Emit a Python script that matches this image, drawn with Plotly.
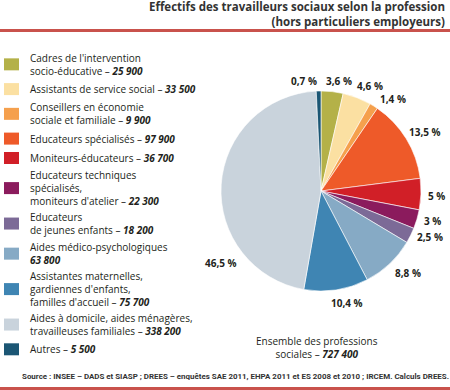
import plotly.graph_objects as go

# ---------------- data ----------------
categories = [
    "Cadres de l'intervention<br>socio-éducative",
    "Assistants de service social",
    "Conseillers en économie<br>sociale et familiale",
    "Educateurs spécialisés",
    "Moniteurs-éducateurs",
    "Educateurs techniques<br>spécialisés,<br>moniteurs d'atelier",
    "Educateurs<br>de jeunes enfants",
    "Aides médico-psychologiques",
    "Assistantes maternelles,<br>gardiennes d'enfants,<br>familles d'accueil",
    "Aides à domicile, aides ménagères,<br>travailleuses familiales",
    "Autres",
]
values = [25900, 33500, 9900, 97900, 36700, 22300, 18200, 63800, 75700, 338200, 5500]
value_labels = ["25 900", "33 500", "9 900", "97 900", "36 700", "22 300",
                "18 200", "63 800", "75 700", "338 200", "5 500"]
pct_labels = ["3,6 %", "4,6 %", "1,4 %", "13,5 %", "5 %", "3 %", "2,5 %",
              "8,8 %", "10,4 %", "46,5 %", "0,7 %"]
total_label = "727 400"
title_lines = ["Effectifs des travailleurs sociaux selon la profession",
               "(hors particuliers employeurs)"]
source_text = ("Source : INSEE – DADS et SIASP ; DREES – enquêtes SAE 2011, "
               "EHPA 2011 et ES 2008 et 2010 ; IRCEM. Calculs DREES.")

# ---------------- styles ----------------
colors = ["#b4b148", "#fbe0a2", "#f5a04d", "#ee5a29", "#d11f27", "#8b1b5d",
          "#7c6a97", "#86aac5", "#3f85b3", "#c9d3dc", "#1b5674"]
W, H = 450, 390
RED = "#c9524c"
TXT = "#231f20"
FONT = "Open Sans"

# pie geometry (pixels)
cx, cy, R = 321, 191, 100
# label positions (pixels) for percentage labels
label_xy = [(339, 81), (370, 86), (393, 99), (425, 132), (436, 196), (432, 221),
            (430, 237), (408, 273), (347, 303), (221, 263), (304, 81)]


def px(x):
    return x / W


def py(y):
    return 1 - y / H


fig = go.Figure()
fig.add_trace(go.Pie(
    values=values,
    labels=[c.replace("<br>", " ") for c in categories],
    sort=False,
    direction="clockwise",
    rotation=0,
    marker=dict(colors=colors, line=dict(color="white", width=0.6)),
    textinfo="none",
    hoverinfo="label+value",
    showlegend=False,
    domain=dict(x=[px(cx - R), px(cx + R)], y=[py(cy + R), py(cy - R)]),
))

annotations = []
shapes = []

# title
annotations.append(dict(
    x=px(447), y=py(14), xref="paper", yref="paper",
    text="<br>".join(title_lines), showarrow=False, xanchor="right",
    yanchor="middle", align="right",
    font=dict(family=FONT, size=11.5, color="#333333", weight="bold")))

# red rules
shapes.append(dict(type="line", xref="paper", yref="paper", x0=0, x1=1,
                   y0=py(30.5), y1=py(30.5), line=dict(color=RED, width=3)))
shapes.append(dict(type="line", xref="paper", yref="paper", x0=0, x1=1,
                   y0=py(388.5), y1=py(388.5), line=dict(color=RED, width=3)))

# legend
line_h = 10.7
gap = 19.4
y = 59
for cat, val, col in zip(categories, value_labels, colors):
    sep = "<br>" if cat == "Aides médico-psychologiques" else " – "
    text = f"{cat}{sep}<b><i>{val}</i></b>"
    n = text.count("<br>") + 1
    top = y
    bottom = y + (n - 1) * line_h
    mid = (top + bottom) / 2
    shapes.append(dict(type="rect", xref="paper", yref="paper",
                       x0=px(4), x1=px(19), y0=py(mid - 6), y1=py(mid + 6),
                       fillcolor=col, line=dict(width=0)))
    annotations.append(dict(
        x=px(28), y=py(mid), xref="paper", yref="paper", text=text,
        showarrow=False, xanchor="left", yanchor="middle", align="left",
        font=dict(family=FONT, size=10, color=TXT)))
    y = bottom + gap

# percentage labels
for lab, (lx, ly) in zip(pct_labels, label_xy):
    annotations.append(dict(
        x=px(lx), y=py(ly), xref="paper", yref="paper", text=lab,
        showarrow=False, xanchor="center", yanchor="middle",
        font=dict(family=FONT, size=10, color=TXT, weight="bold")))

# total
annotations.append(dict(
    x=px(317), y=py(347), xref="paper", yref="paper",
    text=f"Ensemble des professions<br>sociales – <b><i>{total_label}</i></b>",
    showarrow=False, xanchor="center", yanchor="middle", align="center",
    font=dict(family=FONT, size=10, color=TXT)))

# source
annotations.append(dict(
    x=px(20), y=py(376), xref="paper", yref="paper", text=source_text,
    showarrow=False, xanchor="left", yanchor="middle", align="left",
    font=dict(family="Roboto", size=7.8, color="#333333", weight="bold")))

fig.update_layout(
    width=W, height=H, margin=dict(l=0, r=0, t=0, b=0),
    paper_bgcolor="white", plot_bgcolor="white",
    annotations=annotations, shapes=shapes,
)

post = """
document.body.style.margin='0';
document.body.style.overflow='hidden';
var gd = document.getElementById('{plot_id}');
function fit(){
  document.querySelectorAll('text.annotation-text').forEach(function(t){
    if (t.textContent.indexOf('Source :') === 0) {
      t.setAttribute('textLength', '427');
      t.setAttribute('lengthAdjust', 'spacingAndGlyphs');
    }
  });
}
fit();
gd.on('plotly_afterplot', fit);
"""

fig.write_html("out.html", post_script=post, config={"displayModeBar": False})
